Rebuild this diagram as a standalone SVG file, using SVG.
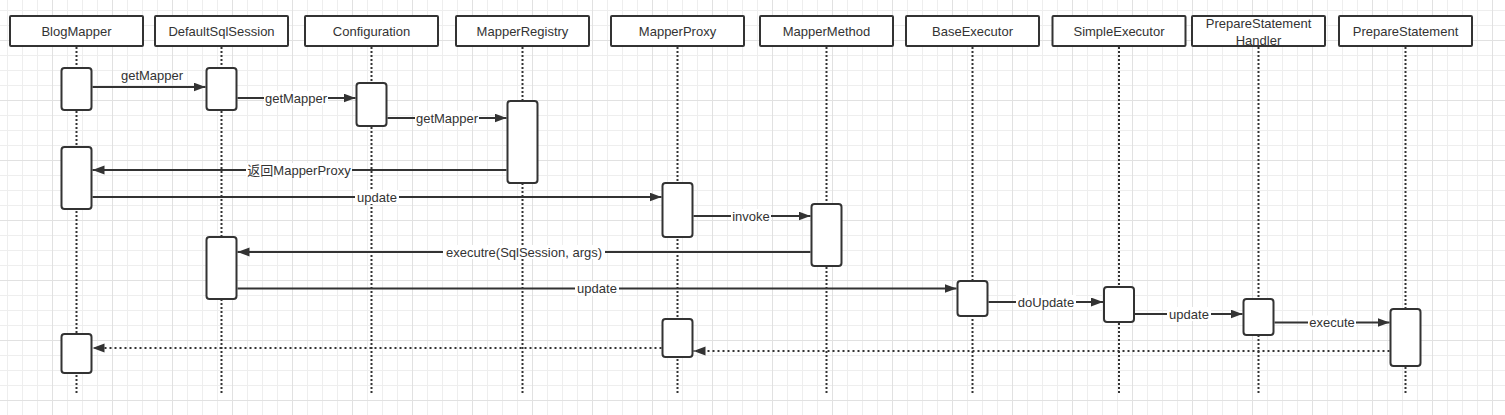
<svg xmlns="http://www.w3.org/2000/svg" width="1505" height="415" viewBox="0 0 1505 415">
<style>
  .hdr{fill:#fff;stroke:#333;stroke-width:2}
  .act{fill:#fff;stroke:#333;stroke-width:2}
  .life{stroke:#333;stroke-width:2;stroke-dasharray:2 2;fill:none}
  .t{font-family:"Liberation Sans",Arial,"Noto Sans CJK SC",sans-serif;font-size:13px;fill:#333;text-anchor:middle}
  .msg{stroke:#333;stroke-width:2;fill:none;marker-end:url(#arr)}
  .ret{stroke:#333;stroke-width:2;stroke-dasharray:2 3;fill:none;marker-end:url(#arr)}
  .lbg{fill:#fff}
</style>
<defs>
  <pattern id="minor" patternUnits="userSpaceOnUse" x="7" y="10" width="15" height="15">
    <path d="M0 0.5H15M0.5 0V15" stroke="#eeeeee" stroke-width="1" fill="none"/>
  </pattern>
  <pattern id="major" patternUnits="userSpaceOnUse" x="52" y="40" width="60" height="60">
    <path d="M0 0.5H60M0.5 0V60" stroke="#e1e1e1" stroke-width="1" fill="none"/>
  </pattern>
  <marker id="arr" markerUnits="userSpaceOnUse" markerWidth="13" markerHeight="10" refX="12" refY="4.5" orient="auto">
    <path d="M0,0L12,4.5L0,9z" fill="#333"/>
  </marker>
</defs>
<rect width="1505" height="415" fill="#fff"/>
<rect width="1505" height="415" fill="url(#minor)"/>
<rect width="1505" height="415" fill="url(#major)"/>

<g id="BlogMapper">
  <line class="life" x1="76.5" y1="47" x2="76.5" y2="394"/>
  <rect class="hdr" x="10" y="16" width="133" height="30" rx="1"/>
  <text class="t" x="76.5" y="36">BlogMapper</text>
  <rect class="act" x="61.5" y="68" width="30" height="42" rx="3"/>
  <rect class="act" x="61.5" y="147" width="30" height="62" rx="3"/>
  <rect class="act" x="61.5" y="334" width="30" height="39" rx="3"/>
</g>
<g id="DefaultSqlSession">
  <line class="life" x1="221.5" y1="47" x2="221.5" y2="394"/>
  <rect class="hdr" x="155" y="16" width="133" height="30" rx="1"/>
  <text class="t" x="221.5" y="36">DefaultSqlSession</text>
  <rect class="act" x="206.5" y="68" width="30" height="42" rx="3"/>
  <rect class="act" x="206.5" y="237" width="30" height="62" rx="3"/>
</g>
<g id="Configuration">
  <line class="life" x1="371.5" y1="47" x2="371.5" y2="394"/>
  <rect class="hdr" x="305" y="16" width="133" height="30" rx="1"/>
  <text class="t" x="371.5" y="36">Configuration</text>
  <rect class="act" x="356.5" y="83" width="30" height="43" rx="3"/>
</g>
<g id="MapperRegistry">
  <line class="life" x1="522.5" y1="47" x2="522.5" y2="394"/>
  <rect class="hdr" x="456" y="16" width="133" height="30" rx="1"/>
  <text class="t" x="522.5" y="36">MapperRegistry</text>
  <rect class="act" x="507.5" y="101" width="30" height="82" rx="3"/>
</g>
<g id="MapperProxy">
  <line class="life" x1="677.5" y1="47" x2="677.5" y2="394"/>
  <rect class="hdr" x="611" y="16" width="133" height="30" rx="1"/>
  <text class="t" x="677.5" y="36">MapperProxy</text>
  <rect class="act" x="662.5" y="183" width="30" height="54" rx="3"/>
  <rect class="act" x="662.5" y="319" width="30" height="38" rx="3"/>
</g>
<g id="MapperMethod">
  <line class="life" x1="826.5" y1="47" x2="826.5" y2="394"/>
  <rect class="hdr" x="760" y="16" width="133" height="30" rx="1"/>
  <text class="t" x="826.5" y="36">MapperMethod</text>
  <rect class="act" x="811.5" y="204" width="30" height="62" rx="3"/>
</g>
<g id="BaseExecutor">
  <line class="life" x1="972.5" y1="47" x2="972.5" y2="394"/>
  <rect class="hdr" x="906" y="16" width="133" height="30" rx="1"/>
  <text class="t" x="972.5" y="36">BaseExecutor</text>
  <rect class="act" x="957.5" y="281" width="30" height="35" rx="3"/>
</g>
<g id="SimpleExecutor">
  <line class="life" x1="1119" y1="47" x2="1119" y2="394"/>
  <rect class="hdr" x="1052.5" y="16" width="133" height="30" rx="1"/>
  <text class="t" x="1119" y="36">SimpleExecutor</text>
  <rect class="act" x="1104" y="287" width="30" height="35" rx="3"/>
</g>
<g id="PrepareStatementHandler">
  <line class="life" x1="1258.5" y1="47" x2="1258.5" y2="394"/>
  <rect class="hdr" x="1192" y="16" width="133" height="30" rx="1"/>
  <text class="t" x="1258.5" y="28">PrepareStatement</text>
  <text class="t" x="1258.5" y="44.5">Handler</text>
  <rect class="act" x="1243.5" y="299" width="30" height="36" rx="3"/>
</g>
<g id="PrepareStatement">
  <line class="life" x1="1405.5" y1="47" x2="1405.5" y2="394"/>
  <rect class="hdr" x="1339" y="16" width="133" height="30" rx="1"/>
  <text class="t" x="1405.5" y="36">PrepareStatement</text>
  <rect class="act" x="1390.5" y="309" width="30" height="57" rx="3"/>
</g>

<g id="connectors">
  <line class="msg" x1="92.5" y1="87" x2="205.5" y2="87"/>
  <text class="t" x="152" y="79.5">getMapper</text>

  <line class="msg" x1="237.5" y1="98" x2="355.5" y2="98"/>
  <rect class="lbg" x="264" y="91" width="64" height="14"/>
  <text class="t" x="296" y="102.5">getMapper</text>

  <line class="msg" x1="387.5" y1="118" x2="506.5" y2="118"/>
  <rect class="lbg" x="415" y="111" width="64" height="14"/>
  <text class="t" x="447" y="122.5">getMapper</text>

  <line class="msg" x1="506.5" y1="170" x2="92.5" y2="170"/>
  <rect class="lbg" x="246" y="163" width="106" height="14"/>
  <text class="t" x="299" y="174.5">返回MapperProxy</text>

  <line class="msg" x1="92.5" y1="197" x2="661.5" y2="197"/>
  <rect class="lbg" x="355" y="190" width="44" height="14"/>
  <text class="t" x="377" y="201.5">update</text>

  <line class="msg" x1="693.5" y1="216" x2="810.5" y2="216"/>
  <rect class="lbg" x="731" y="209" width="40" height="14"/>
  <text class="t" x="751" y="220.5">invoke</text>

  <line class="msg" x1="810.5" y1="252" x2="237.5" y2="252"/>
  <rect class="lbg" x="443" y="245" width="162" height="14"/>
  <text class="t" x="524" y="256.5">executre(SqlSession, args)</text>

  <line class="msg" x1="237.5" y1="288.5" x2="956.5" y2="288.5"/>
  <rect class="lbg" x="575" y="281.5" width="44" height="14"/>
  <text class="t" x="597" y="293">update</text>

  <line class="msg" x1="988.5" y1="302" x2="1103" y2="302"/>
  <rect class="lbg" x="1016" y="295" width="60" height="14"/>
  <text class="t" x="1046" y="306.5">doUpdate</text>

  <line class="msg" x1="1135" y1="314" x2="1242.5" y2="314"/>
  <rect class="lbg" x="1167" y="307" width="44" height="14"/>
  <text class="t" x="1189" y="318.5">update</text>

  <line class="msg" x1="1274.5" y1="322.5" x2="1389.5" y2="322.5"/>
  <rect class="lbg" x="1308" y="315.5" width="48" height="14"/>
  <text class="t" x="1332" y="327">execute</text>

  <line class="ret" x1="1389.5" y1="351" x2="693.5" y2="351"/>
  <line class="ret" x1="661.5" y1="348" x2="92.5" y2="348"/>
</g>
</svg>
